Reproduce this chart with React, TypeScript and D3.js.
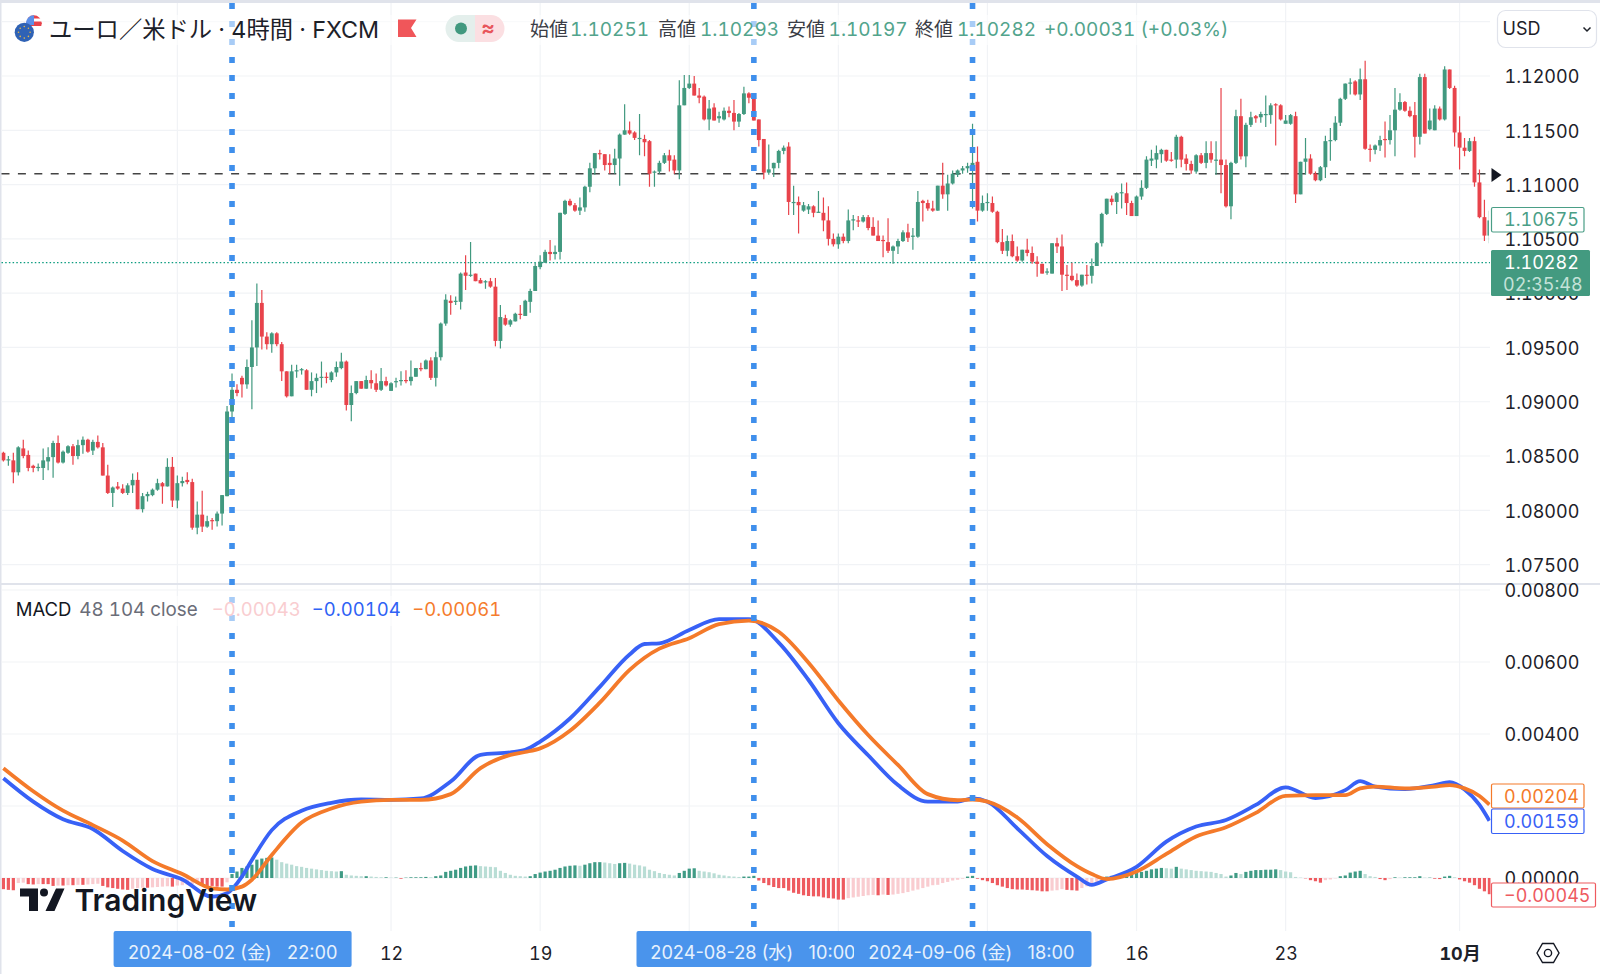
import { useEffect, useRef } from 'react'
import * as d3 from 'd3'

// Price values are stored as price x 10000, one row = 10 four-hour bars
const opens = [
  10853,10847,10846,10835,10857,10851,10841,10839,10839,10845,
  10849,10862,10844,10853,10859,10850,10860,10865,10855,10863,
  10858,10832,10816,10822,10820,10816,10823,10828,10801,10813,
  10814,10819,10825,10822,10840,10809,10825,10828,10826,10784,
  10796,10785,10791,10790,10797,10813,10891,10911,10922,10916,
  10932,10950,10991,10960,10953,10963,10953,10928,10905,10928,
  10929,10929,10911,10919,10922,10923,10920,10927,10931,10937,
  10897,10908,10919,10912,10920,10917,10911,10919,10910,10918,
  10919,10920,10919,10923,10931,10930,10938,10922,10941,10972,
  10993,10992,10992,11019,11016,11018,11012,11010,11011,11006,
  10956,10977,10971,10974,10981,10979,10992,11002,11024,11028,
  11038,11036,11038,11073,11085,11081,11076,11079,11098,11115,
  11129,11128,11120,11118,11124,11146,11150,11148,11143,11142,
  11140,11111,11112,11120,11127,11123,11113,11173,11189,11193,
  11182,11181,11160,11171,11161,11160,11168,11166,11158,11165,
  11184,11180,11160,11142,11111,11115,11120,11131,11135,11084,
  11084,11076,11077,11080,11074,11074,11067,11050,11045,11052,
  11048,11067,11067,11066,11070,11061,11053,11049,11047,11039,
  11043,11048,11056,11052,11052,11085,11083,11078,11076,11099,
  11091,11101,11109,11113,11115,11117,11121,11076,11083,11083,
  11075,11047,11039,11048,11034,11030,11040,11037,11029,11027,
  11019,11018,11046,11043,11017,11016,11012,11007,11017,11016,
  11025,11046,11073,11087,11084,11092,11092,11083,11071,11089,
  11097,11122,11123,11128,11132,11123,11123,11144,11124,11119,
  11112,11127,11120,11129,11122,11123,11118,11080,11120,11163,
  11126,11155,11163,11162,11165,11164,11174,11173,11156,11156,
  11163,11091,11121,11124,11110,11104,11116,11141,11141,11157,
  11179,11193,11195,11183,11197,11133,11132,11136,11142,11141,
  11150,11169,11176,11168,11164,11144,11199,11151,11150,11170,
  11160,11206,11189,11148,11134,11131,11140,11102,11070,11053,
]
const closes = [
  10846,10847,10835,10858,10850,10839,10839,10840,10846,10849,
  10862,10844,10854,10859,10850,10860,10865,10854,10863,10858,
  10832,10816,10821,10820,10816,10823,10828,10801,10813,10815,
  10819,10825,10822,10840,10809,10825,10827,10826,10784,10796,
  10785,10790,10790,10797,10814,10891,10911,10908,10916,10932,
  10950,10991,10960,10953,10963,10953,10928,10905,10928,10929,
  10930,10911,10919,10922,10923,10922,10927,10932,10937,10897,
  10908,10919,10912,10920,10917,10911,10919,10915,10917,10919,
  10920,10919,10923,10931,10930,10938,10922,10941,10972,10994,
  10991,10993,11018,11016,11017,11011,11009,11011,11006,10956,
  10978,10971,10975,10981,10980,10993,11002,11025,11029,11038,
  11036,11038,11074,11085,11081,11076,11079,11098,11115,11129,
  11128,11118,11118,11124,11146,11150,11147,11143,11143,11139,
  11110,11112,11120,11127,11122,11113,11173,11189,11193,11182,
  11180,11160,11170,11159,11163,11168,11166,11158,11165,11184,
  11180,11159,11141,11111,11114,11120,11131,11134,11084,11084,
  11081,11081,11080,11074,11075,11067,11050,11045,11052,11048,
  11067,11068,11066,11070,11060,11053,11048,11048,11039,11043,
  11048,11056,11051,11053,11084,11083,11078,11076,11099,11091,
  11101,11110,11113,11115,11117,11120,11076,11083,11084,11075,
  11047,11039,11048,11034,11030,11040,11037,11029,11027,11018,
  11020,11046,11043,11017,11016,11012,11007,11017,11016,11025,
  11046,11073,11087,11084,11092,11093,11083,11071,11089,11097,
  11123,11124,11129,11132,11122,11122,11144,11123,11119,11113,
  11127,11120,11129,11123,11123,11118,11080,11120,11163,11126,
  11155,11162,11161,11165,11165,11173,11173,11160,11159,11164,
  11091,11121,11124,11110,11104,11116,11140,11141,11157,11179,
  11193,11194,11183,11197,11133,11132,11136,11141,11141,11150,
  11169,11176,11168,11163,11144,11199,11147,11159,11170,11160,
  11206,11189,11148,11134,11131,11140,11102,11070,11053,11067,
]
const highs = [
  10854,10850,10853,10859,10865,10855,10842,10843,10857,10858,
  10864,10869,10855,10860,10861,10865,10868,10866,10865,10869,
  10862,10842,10822,10826,10824,10825,10834,10835,10816,10817,
  10820,10829,10826,10848,10849,10832,10831,10835,10829,10808,
  10818,10795,10793,10799,10814,10896,10926,10916,10924,10939,
  10975,11009,11003,10964,10964,10964,10955,10928,10934,10934,
  10931,10930,10927,10926,10937,10927,10928,10937,10945,10938,
  10915,10919,10919,10924,10929,10926,10931,10923,10918,10922,
  10928,10929,10938,10931,10936,10939,10941,10946,10973,10999,
  10998,10997,11019,11035,11047,11018,11014,11012,11014,11014,
  10989,10980,10976,10982,10989,10994,11004,11028,11035,11040,
  11049,11044,11074,11086,11087,11083,11088,11099,11120,11129,
  11132,11128,11128,11133,11147,11174,11158,11149,11165,11146,
  11141,11113,11122,11129,11132,11127,11196,11201,11201,11200,
  11189,11182,11178,11175,11167,11171,11172,11178,11166,11190,
  11185,11184,11160,11142,11137,11120,11132,11136,11139,11099,
  11089,11084,11082,11081,11094,11088,11080,11055,11055,11055,
  11077,11072,11071,11072,11072,11070,11067,11053,11069,11044,
  11050,11058,11064,11060,11094,11086,11086,11085,11099,11120,
  11109,11113,11114,11117,11120,11156,11135,11090,11092,11089,
  11076,11059,11053,11054,11043,11040,11050,11043,11034,11027,
  11023,11046,11051,11054,11026,11028,11018,11017,11026,11032,
  11047,11074,11087,11090,11093,11101,11102,11085,11090,11104,
  11126,11132,11136,11133,11132,11130,11146,11145,11128,11122,
  11128,11129,11140,11140,11140,11189,11123,11121,11169,11179,
  11157,11167,11164,11167,11182,11175,11175,11174,11164,11165,
  11167,11121,11143,11128,11112,11117,11145,11152,11163,11180,
  11193,11198,11196,11207,11214,11137,11137,11145,11158,11164,
  11189,11184,11177,11172,11176,11202,11202,11170,11173,11172,
  11209,11206,11191,11163,11143,11143,11144,11114,11086,11076,
]
const lows = [
  10845,10841,10825,10832,10848,10836,10835,10836,10828,10837,
  10830,10843,10843,10852,10842,10847,10852,10853,10851,10857,
  10832,10815,10803,10819,10815,10814,10816,10801,10798,10808,
  10813,10818,10806,10822,10803,10802,10822,10824,10782,10778,
  10780,10784,10782,10785,10786,10813,10883,10905,10904,10912,
  10893,10933,10948,10948,10945,10951,10919,10904,10905,10922,
  10925,10911,10905,10908,10913,10917,10918,10923,10930,10892,
  10882,10907,10912,10912,10912,10909,10910,10914,10910,10913,
  10915,10917,10915,10923,10928,10930,10920,10914,10938,10970,
  10980,10989,10985,11003,11015,11011,11009,11004,11005,10951,
  10949,10970,10969,10974,10976,10979,10982,11002,11022,11028,
  11030,11031,11031,11072,11080,11075,11072,11075,11093,11109,
  11123,11113,11110,11110,11099,11146,11146,11141,11127,11126,
  11098,11098,11110,11119,11112,11110,11105,11173,11188,11182,
  11175,11159,11150,11159,11157,11159,11162,11150,11153,11164,
  11175,11159,11135,11105,11109,11107,11115,11128,11072,11072,
  11055,11075,11073,11070,11074,11057,11044,11043,11041,11046,
  11046,11058,11061,11065,11058,11053,11048,11033,11037,11027,
  11036,11047,11047,11040,11051,11066,11076,11075,11076,11087,
  11076,11100,11107,11110,11111,11078,11066,11075,11076,11074,
  11046,11036,11034,11033,11029,11029,11034,11027,11015,11018,
  11017,11018,11037,11002,11003,11011,11006,11006,11008,11009,
  11025,11043,11072,11081,11073,11078,11072,11071,11071,11086,
  11096,11117,11115,11120,11121,11121,11115,11116,11113,11110,
  11110,11119,11115,11120,11109,11092,11079,11068,11119,11123,
  11116,11153,11157,11157,11153,11156,11136,11159,11156,11155,
  11083,11091,11109,11109,11103,11103,11106,11122,11140,11154,
  11178,11183,11182,11178,11132,11121,11128,11131,11125,11137,
  11126,11168,11167,11162,11125,11137,11147,11150,11150,11159,
  11159,11188,11135,11114,11126,11130,11098,11069,11048,11046,
]

// MACD values are stored x 100000
const histogram = [
  -31,-33,-34,-14,-13,-17,-18,-17,-17,-17,
  -22,-21,-21,-20,-20,-19,-19,-18,-17,-16,
  -22,-26,-28,-30,-32,-33,-30,-28,-27,-27,
  -26,-25,-24,-23,-24,-21,-20,-18,-17,-16,
  -22,-22,-22,-24,-24,-12,11,18,28,32,
  37,51,54,56,57,51,44,40,37,33,
  31,28,26,24,22,20,19,18,19,9,
  7,6,5,5,4,3,2,2,1,1,
  -2,1,2,2,2,3,2,5,7,17,
  20,23,28,32,34,35,33,32,31,30,
  20,14,9,6,5,4,5,11,15,18,
  20,23,28,32,34,35,34,37,41,44,
  44,43,41,39,41,42,40,37,35,32,
  23,19,14,11,9,7,14,20,26,27,
  20,18,16,13,9,7,5,4,3,4,
  4,6,-7,-14,-20,-25,-28,-28,-35,-41,
  -44,-48,-50,-51,-51,-54,-56,-57,-60,-60,
  -56,-54,-52,-50,-48,-47,-48,-46,-47,-46,
  -44,-42,-39,-35,-32,-28,-24,-20,-19,-14,
  -11,-7,-5,-2,4,6,-2,-6,-9,-14,
  -20,-24,-28,-31,-32,-32,-33,-34,-35,-37,
  -37,-35,-34,-31,-33,-34,-35,-28,-23,-19,
  -11,-4,4,6,7,9,11,14,14,17,
  20,24,26,28,27,26,31,26,24,22,
  20,19,18,17,14,11,4,7,14,11,
  17,20,22,22,23,23,24,22,18,16,
  3,1,-1,-6,-9,-13,-6,-4,-1,5,
  7,15,18,20,11,5,3,-3,-6,-3,
  2,1,2,2,2,5,1,1,-2,-3,
  4,6,2,-4,-9,-13,-20,-30,-37,-45,
]
const lineBars = [0,6,12,18,24,30,36,42,45,48,50,54,60,66,72,78,84,90,96,102,105,108,114,120,126,129,132,138,144,150,156,162,168,174,180,186,192,195,198,204,210,216,219,222,228,234,240,246,252,258,264,270,273,276,282,288,291,294,297,299]
const macdLine = [277,212,163,136,75,25,-4,-52,-42,4,50,133,187,209,218,217,221,268,342,349,356,379,443,531,621,650,652,689,719,719,654,550,430,341,258,212,212,221,212,138,61,4,-19,-4,31,101,143,161,203,252,222,244,269,254,247,258,266,246,203,159]
const signalLine = [305,241,187,147,104,47,11,-29,-32,-24,-5,64,154,193,212,217,217,233,305,342,350,360,409,487,578,612,637,666,705,715,684,598,493,397,314,233,216,218,212,168,94,33,11,-3,18,67,115,141,181,228,230,230,249,254,249,254,258,249,228,204]

const priceTicks = [1.12, 1.115, 1.11, 1.105, 1.1, 1.095, 1.09, 1.085, 1.08, 1.075]
const priceGrid = [1.125, ...priceTicks]
const macdTicks = [0.008, 0.006, 0.004, 0.002, 0]
const macdLabels = [0.008, 0.006, 0.004, 0]
const weekBars = [35, 78, 108, 138, 168, 198, 228, 258, 293]
const dateBars = [78, 108, 228, 258, 293]
const dateLabels = ['12', '19', '16', '23', '10月']
const crosshairBars = [46, 151, 195]
const alertPrice = 1.111
const lastPrice = 1.10282

const FONT = "Inter, 'Noto Sans CJK JP', sans-serif"
const GREEN = '#41997f'
const RED = '#e8434b'

export default function App() {
  const ref = useRef<SVGSVGElement | null>(null)

  useEffect(() => {
    const svg = d3.select(ref.current)
    svg.selectAll('*').remove()
    svg.attr('width', 1600).attr('height', 974).style('font-family', FONT).style('font-variant-numeric', 'tabular-nums')

    const x = d3.scaleLinear().domain([0, 299]).range([3.4, 1489.4])
    const y = d3.scaleLinear().domain([1.12, 1.075]).range([76, 564.6])
    const m = d3.scaleLinear().domain([0, 0.008]).range([878, 590])

    svg.append('rect').attr('width', 1600).attr('height', 974).attr('fill', '#fff')
    svg.append('rect').attr('width', 1600).attr('height', 3).attr('fill', '#e0e3eb')
    svg.append('rect').attr('width', 1.5).attr('height', 974).attr('fill', '#e0e3eb')

    const defs = svg.append('defs')
    defs.append('clipPath').attr('id', 'pane').append('rect').attr('x', 1.5).attr('y', 3).attr('width', 1489).attr('height', 927)
    defs.append('clipPath').attr('id', 'candlePane').append('rect').attr('x', 1.5).attr('y', 3).attr('width', 1487.4).attr('height', 580)
    defs.append('clipPath').attr('id', 'usFlag').append('circle').attr('cx', 33.8).attr('cy', 23.3).attr('r', 8)
    defs.append('clipPath').attr('id', 'dateClip').append('rect').attr('x', 636).attr('y', 931).attr('width', 218).attr('height', 36)

    // grid
    const grid = svg.append('g').attr('stroke', '#f1f3f6').attr('stroke-width', 1.2)
    grid.selectAll('line.h').data(priceGrid).enter().append('line')
      .attr('x1', 1.5).attr('x2', 1490).attr('y1', (d) => y(d)).attr('y2', (d) => y(d))
    grid.selectAll('line.m').data(macdTicks).enter().append('line')
      .attr('x1', 1.5).attr('x2', 1490).attr('y1', (d) => m(d)).attr('y2', (d) => m(d))
    grid.selectAll('line.v').data(weekBars).enter().append('line')
      .attr('x1', (d) => x(d)).attr('x2', (d) => x(d)).attr('y1', 3).attr('y2', 931)

    svg.append('rect').attr('x', 0).attr('y', 583).attr('width', 1600).attr('height', 2).attr('fill', '#e0e3eb')

    // alert and last price lines
    svg.append('line').attr('x1', 1.5).attr('x2', 1486).attr('y1', y(alertPrice)).attr('y2', y(alertPrice))
      .attr('stroke', '#444').attr('stroke-width', 1.5).attr('stroke-dasharray', '8 8.4')
    svg.append('line').attr('x1', 1.5).attr('x2', 1490).attr('y1', y(lastPrice)).attr('y2', y(lastPrice))
      .attr('stroke', '#0d9d80').attr('stroke-width', 1.2).attr('stroke-dasharray', '1.5 2.2')

    // candles
    const bars = d3.range(opens.length)
    const candles = svg.append('g').attr('clip-path', 'url(#candlePane)')
    const isUp = (i: number) => closes[i] >= opens[i]
    candles.selectAll('line').data(bars).enter().append('line')
      .attr('x1', (i) => x(i)).attr('x2', (i) => x(i))
      .attr('y1', (i) => y(highs[i] / 1e4)).attr('y2', (i) => y(lows[i] / 1e4))
      .attr('stroke', (i) => (isUp(i) ? GREEN : RED)).attr('stroke-width', 1.2)
    candles.selectAll('rect').data(bars).enter().append('rect')
      .attr('x', (i) => x(i) - 1.95).attr('width', 3.9)
      .attr('y', (i) => y(Math.max(opens[i], closes[i]) / 1e4))
      .attr('height', (i) => Math.max(1.2, Math.abs(y(opens[i] / 1e4) - y(closes[i] / 1e4))))
      .attr('fill', (i) => (isUp(i) ? GREEN : RED))

    // histogram, shade depends on whether the bar grows away from zero
    const histColor = (i: number) => {
      const v = histogram[i]
      const prev = i > 0 ? histogram[i - 1] : v
      if (v >= 0) return v >= prev ? '#3f9b85' : '#b9ddd5'
      return v <= prev ? '#ee5a5f' : '#f9ccd0'
    }
    const macdPane = svg.append('g').attr('clip-path', 'url(#pane)')
    macdPane.selectAll('rect').data(bars).enter().append('rect')
      .attr('x', (i) => x(i) - 1.6).attr('width', 3.2)
      .attr('y', (i) => Math.min(m(0), m(histogram[i] / 1e5)))
      .attr('height', (i) => Math.abs(m(histogram[i] / 1e5) - m(0)))
      .attr('fill', (i) => histColor(i))

    const line = d3.line<number>()
      .x((_d, i) => x(lineBars[i]))
      .y((d) => m(d / 1e5))
      .curve(d3.curveMonotoneX)
    macdPane.append('path').datum(macdLine).attr('fill', 'none').attr('stroke', '#3861f6').attr('stroke-width', 3.8).attr('d', line as any)
    macdPane.append('path').datum(signalLine).attr('fill', 'none').attr('stroke', '#f47a2a').attr('stroke-width', 3.8).attr('d', line as any)

    // crosshair markers
    svg.append('g').selectAll('line').data(crosshairBars).enter().append('line')
      .attr('x1', (d) => x(d)).attr('x2', (d) => x(d)).attr('y1', 3).attr('y2', 932)
      .attr('stroke', '#3f8fec').attr('stroke-width', 5.6).attr('stroke-dasharray', '6 12')

    // legend washes over the crosshair dots
    svg.append('rect').attr('x', 40).attr('y', 15).attr('width', 1190).attr('height', 30).attr('fill', '#fff').attr('opacity', 0.55)
    svg.append('rect').attr('x', 10).attr('y', 596).attr('width', 500).attr('height', 30).attr('fill', '#fff').attr('opacity', 0.55)

    const text = (parent: any, t: string, tx: number, ty: number, size: number, color: string, anchor = 'start', weight = 400) =>
      parent.append('text').attr('x', tx).attr('y', ty).attr('font-size', size).attr('fill', color)
        .attr('text-anchor', anchor).attr('font-weight', weight).text(t)

    // header
    const head = svg.append('g')
    head.append('g').attr('clip-path', 'url(#usFlag)').call((g: any) => {
      g.append('rect').attr('x', 25).attr('y', 15).attr('width', 18).attr('height', 17).attr('fill', '#fff')
      g.append('rect').attr('x', 25).attr('y', 15).attr('width', 18).attr('height', 3.5).attr('fill', '#e8434b')
      g.append('rect').attr('x', 25).attr('y', 21.5).attr('width', 18).attr('height', 4.5).attr('fill', '#e8434b')
      g.append('rect').attr('x', 25).attr('y', 15).attr('width', 9).attr('height', 10).attr('fill', '#5b8fe8')
    })
    head.append('circle').attr('cx', 24.3).attr('cy', 32.3).attr('r', 9.6).attr('fill', '#2f62b5')
    head.selectAll('circle.star').data(d3.range(8)).enter().append('circle')
      .attr('cx', (d) => 24.3 + 5.8 * Math.cos((d * Math.PI) / 4))
      .attr('cy', (d) => 32.3 + 5.8 * Math.sin((d * Math.PI) / 4))
      .attr('r', 0.8).attr('fill', '#e2b548')
    text(head, 'ユーロ／米ドル · 4時間 · FXCM', 49, 38, 23.3, '#1d2129')
    head.append('path').attr('d', 'M398 19.5H416.5L411 28L416.5 37H398Z').attr('fill', '#f0565a')
    head.append('path').attr('d', 'M475 15H459A13.5 13.5 0 0 0 459 42H475Z').attr('fill', '#e4efec')
    head.append('path').attr('d', 'M475 15H491A13.5 13.5 0 0 1 491 42H475Z').attr('fill', '#fbdfe2')
    head.append('circle').attr('cx', 461).attr('cy', 28.5).attr('r', 6).attr('fill', GREEN)
    text(head, '≈', 488, 35, 21, '#e8555b', 'middle', 600)

    const ohlc: [string, number, string, number][] = [
      ['始値', 530, '1.10251', 570],
      ['高値', 658, '1.10293', 700],
      ['安値', 787, '1.10197', 828.6],
      ['終値', 915, '1.10282', 957],
    ]
    ohlc.forEach(([label, lx, value, vx]) => {
      text(head, label, lx, 36, 19, '#3a3d46')
      text(head, value, vx, 36, 19, '#52a48c')
    })
    text(head, '+0.00031 (+0.03%)', 1044, 36, 19, '#52a48c')

    head.append('rect').attr('x', 1497.5).attr('y', 10.5).attr('width', 99).attr('height', 37).attr('rx', 8)
      .attr('fill', '#fff').attr('stroke', '#e0e3eb').attr('stroke-width', 1.2)
    text(head, 'USD', 1502.5, 35, 18, '#1d2129')
    head.append('path').attr('d', 'M1583.5 27.5L1587 31L1590.5 27.5').attr('fill', 'none').attr('stroke', '#1d2129').attr('stroke-width', 1.5)

    // MACD legend
    text(svg, 'MACD', 15.7, 616, 18.5, '#131722')
    text(svg, '48 104 close', 79.3, 616, 18.8, '#6a6d78')
    text(svg, '−0.00043', 211.7, 616, 18.5, '#f9cdd0')
    text(svg, '−0.00104', 311.7, 616, 18.5, '#2f62f5')
    text(svg, '−0.00061', 412.3, 616, 18.5, '#f57c2d')

    // axes
    const styleAxis = (g: any) => {
      g.select('.domain').remove()
      g.selectAll('.tick line').remove()
      g.selectAll('text').attr('fill', '#1d2129').attr('font-size', 18).attr('font-family', FONT)
    }
    svg.append('g').attr('transform', 'translate(1504.5,1)')
      .call(d3.axisRight(y).tickValues(priceTicks).tickFormat(d3.format('.5f') as any).tickSize(0).tickPadding(0) as any)
      .call(styleAxis)
    svg.append('g').attr('transform', 'translate(1504.5,1)')
      .call(d3.axisRight(m).tickValues(macdLabels).tickFormat(d3.format('.5f') as any).tickSize(0).tickPadding(0) as any)
      .call(styleAxis)
    svg.append('g').attr('transform', 'translate(0,938)')
      .call(d3.axisBottom(x).tickValues(dateBars).tickFormat((_d, i) => dateLabels[i]).tickSize(0).tickPadding(0) as any)
      .call(styleAxis)
      .call((g: any) => g.selectAll('text').attr('dy', '1.2em').filter((_d: any, i: number) => i === 4).attr('font-weight', 700))

    // price tags
    const tag = (ty: number, tw: number, th: number, color: string, label: string) => {
      svg.append('rect').attr('x', 1491.5).attr('y', ty).attr('width', tw).attr('height', th).attr('rx', 1.5)
        .attr('fill', '#fff').attr('stroke', color).attr('stroke-width', 1.2)
      text(svg, label, 1504, ty + th / 2 + 6.5, 18, color)
    }
    tag(207.5, 92.5, 24.5, '#4a9e86', '1.10675')
    tag(784, 92.5, 24, '#f47a2a', '0.00204')
    tag(809, 92.5, 24.5, '#3861f6', '0.00159')
    tag(883, 104, 24, '#ee5a5f', '−0.00045')

    svg.append('rect').attr('x', 1491).attr('y', 250).attr('width', 99).attr('height', 46).attr('rx', 1.5).attr('fill', '#439a80')
    text(svg, '1.10282', 1504, 268.5, 18, '#fff')
    text(svg, '02:35:48', 1503, 291, 18, '#c4e2d8')
    svg.append('path').attr('d', 'M1491.5 168L1501.5 175L1491.5 182Z').attr('fill', '#131722')

    // settings icon
    svg.append('path').attr('d', 'M1537 953L1542.5 943.5H1553.5L1559 953L1553.5 962.5H1542.5Z').attr('fill', 'none').attr('stroke', '#131722').attr('stroke-width', 1.4)
    svg.append('circle').attr('cx', 1548).attr('cy', 953).attr('r', 3.6).attr('fill', 'none').attr('stroke', '#131722').attr('stroke-width', 1.4)

    // logo
    svg.append('path').attr('d', 'M20 888.5H38V911H29V896.5H20ZM56 888.5H64.5L54.5 911H45.5Z').attr('fill', '#131722')
    svg.append('circle').attr('cx', 44).attr('cy', 892.5).attr('r', 4).attr('fill', '#131722')
    text(svg, 'TradingView', 74.5, 911, 30, '#131722', 'start', 600)

    // crosshair date labels, these keep the proportional digits
    svg.append('rect').attr('x', 113.6).attr('y', 931).attr('width', 238).attr('height', 36).attr('rx', 2).attr('fill', '#4a94ec')
    svg.append('rect').attr('x', 636.5).attr('y', 931).attr('width', 455).attr('height', 36).attr('rx', 2).attr('fill', '#4a94ec')
    const dateText = (t: string, tx: number) =>
      text(svg, t, tx, 959, 18.2, '#e6f1fd').style('font-variant-numeric', 'normal').style('white-space', 'pre')
    dateText('2024-08-02 (金)   22:00', 128)
    dateText('2024-08-28 (水)   10:00', 650.3).attr('clip-path', 'url(#dateClip)')
    dateText('2024-09-06 (金)   18:00', 868.3)
  }, [])

  return <svg ref={ref} style={{ position: 'absolute', left: 0, top: 0, display: 'block' }} />
}
